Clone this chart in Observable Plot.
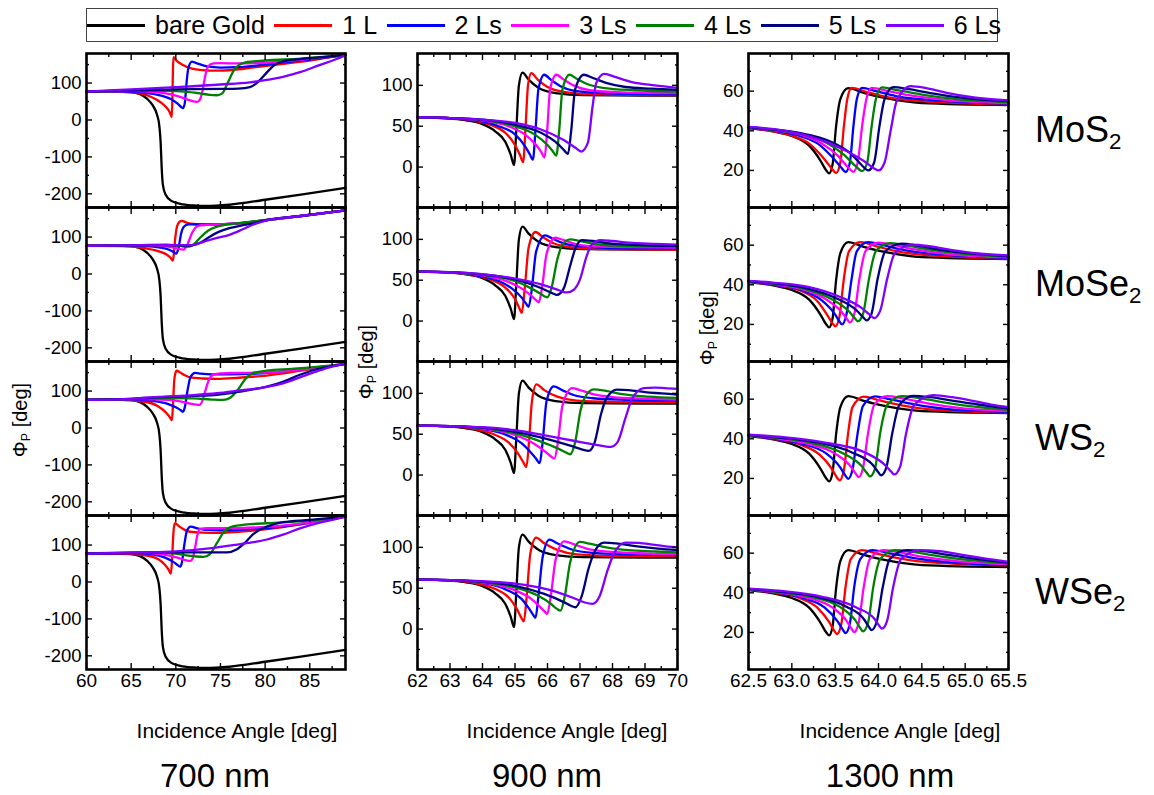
<!DOCTYPE html>
<html>
<head>
<meta charset="utf-8">
<script src="https://cdn.jsdelivr.net/npm/d3@7"></script>
<script src="https://cdn.jsdelivr.net/npm/@observablehq/plot@0.6"></script>
<style>
  body { margin: 0; background: #fff; }
  #fig { position: relative; width: 1154px; height: 795px; font-family: "Liberation Sans", Arial, sans-serif; color: #000; overflow: hidden; }
  .panel { position: absolute; }
  .abs { position: absolute; white-space: nowrap; transform: translate(-50%, -50%); }
  .rot { transform: translate(-50%, -50%) rotate(-90deg); }
  #legend { position: absolute; left: 86px; top: 8px; width: 912px; height: 34px; box-sizing: border-box;
            border: 1.5px solid #444; display: flex; align-items: center; font-size: 25px; white-space: nowrap; overflow: visible; }
  #legend .sw { width: 58px; height: 3px; margin-right: 10px; flex: none; }
  #legend .lb { margin-right: 9.5px; line-height: 1; flex: none; white-space: nowrap; }
  sub { font-size: 0.62em; vertical-align: -0.32em; line-height: 0; }
</style>
</head>
<body>
<div id="fig"></div>
<script>
// ---- series ----
const series = ["bare Gold", "1 L", "2 Ls", "3 Ls", "4 Ls", "5 Ls", "6 Ls"];
const colors = ["#000000", "#ff0000", "#0000ff", "#ff00ff", "#008000", "#000080", "#8000ff"];
const materials = ["MoS<sub>2</sub>", "MoSe<sub>2</sub>", "WS<sub>2</sub>", "WSe<sub>2</sub>"];
const wavelengths = ["700 nm", "900 nm", "1300 nm"];

// ---- axis ticks per wavelength column ----
const xDomains = [[60, 89], [62, 70], [62.5, 65.5]];
const yDomains = [[-237, 180], [-49.5, 139], [1.3, 79]];
const xMajor = [[60, 65, 70, 75, 80, 85], [62, 63, 64, 65, 66, 67, 68, 69, 70], [62.5, 63, 63.5, 64, 64.5, 65, 65.5]];
const xMinor = [[62.5, 67.5, 72.5, 77.5, 82.5, 87.5], [62.5, 63.5, 64.5, 65.5, 66.5, 67.5, 68.5, 69.5], [62.75, 63.25, 63.75, 64.25, 64.75, 65.25]];
const yMajor = [[-200, -100, 0, 100], [0, 50, 100], [20, 40, 60]];
const yMinor = [[-150, -50, 50, 150], [-25, 25, 75, 125], [10, 30, 50, 70]];

// ---- bare gold phase, [angle, phase, angle, phase, ...] ----
const gold700 = [60,77, 63,77, 65,75.5, 66,70, 66.8,57, 67.4,40, 67.9,14, 68.15,-15, 68.3,-60, 68.42,-130, 68.55,-175, 68.85,-202, 69.5,-219, 70.5,-227, 72,-231.5, 73.3,-233, 76,-229.5, 80,-216, 84,-202, 89,-184];
const gold900 = [62,60.8, 63,59.2, 63.5,57.2, 64,52.5, 64.4,43.5, 64.7,31, 64.87,15, 64.97,2.5, 65.04,45, 65.12,100, 65.23,115.5, 65.42,107, 65.72,97, 66.25,90.5, 67.1,88, 70,87.5];
const gold1300 = [62.5,41.4, 62.8,39.6, 63,37.4, 63.2,32.5, 63.33,25, 63.4,19.8, 63.43,18.5, 63.47,23, 63.51,42, 63.56,56, 63.65,61.5, 63.82,59.3, 64.1,56.3, 64.5,54, 65.5,53];

// ---- 700 nm, 1 L ... 6 Ls ----
const mos2_700 = [
  [60,77, 64,76, 66,72, 67.2,63, 68.3,48, 68.9,35, 69.3,22, 69.55,8, 69.62,60, 69.68,140, 69.75,170, 70.1,160, 70.8,149, 71.8,139, 73,135, 74.6,133.5, 76.5,136, 78.3,141, 82,152, 85.5,163, 89,176],
  [60,77, 64,77, 67,72, 68.5,65, 69.5,56, 70.2,44, 70.6,35, 70.8,32, 71,45, 71.2,100, 71.4,140, 71.8,158, 72.3,154, 73.5,145, 75,142, 77,143, 80,150, 84,161, 89,176],
  [60,77, 65,78, 68,75, 69.5,69, 70.8,60, 71.6,53, 72.1,50, 72.4,49, 72.7,55, 73,80, 73.3,120, 73.6,145, 74.2,153, 75,154, 77,153, 80,155, 84,163, 89,176],
  [60,77, 65,79, 69,79, 71,77, 72.7,72, 73.8,68, 74.6,67, 75.2,72, 75.8,100, 76.4,130, 77,148, 78,157, 80,161, 84,166, 89,176],
  [60,77, 65,80, 70,83, 75,84, 77,85, 78.3,89, 79.3,105, 80.2,129, 81,148, 82,159, 84,165, 86.5,170, 89,176],
  [60,77, 65,83, 70,89, 75,96, 78.3,102, 80,108, 82,117, 84,130, 86,148, 88,165, 89,175]
];
const mose2_700 = [
  [60,76, 64,75.5, 66.5,70, 68,62, 69,52, 69.4,44, 69.67,36, 69.8,60, 69.95,100, 70.15,130, 70.4,141, 70.68,144, 71.1,140, 71.7,136, 73,134, 75,134.5, 77,137, 80,145.5, 84,157, 89,172],
  [60,76, 65,77, 67.5,74, 69,68, 69.7,60, 70.04,55, 70.3,70, 70.6,110, 70.9,128, 71.4,134.5, 72.5,134, 74.5,134, 76.5,136, 80,145.5, 84,157, 89,172],
  [60,76, 66,78, 68.5,76, 70,70, 70.86,66, 71.3,80, 71.8,110, 72.2,125, 72.6,131, 73.5,133, 75,134.5, 77,137, 80,145.5, 84,157, 89,172],
  [60,76, 66,78, 69,79, 70.5,76, 71.2,73.5, 72,80, 72.8,100, 73.6,117, 74.6,128, 75.8,134.5, 77,137.5, 80,145.5, 84,157, 89,172],
  [60,76, 66,78, 69,78.5, 71.6,77, 72.8,85, 73.8,101, 74.8,114, 76,124, 77.5,132, 78.7,137, 80,145, 84,157, 89,172],
  [60,76, 66,78, 69.5,78, 71.6,78, 73.1,87, 74.5,97, 76,106, 77.5,121, 78.7,134, 80,144, 84,157, 89,172]
];
const ws2_700 = [
  [60,76, 64,76, 66.5,71, 68,59, 68.9,42, 69.3,30, 69.56,21, 69.68,60, 69.8,120, 69.95,148, 70.11,155, 70.5,150, 71,143, 71.6,137, 73,134, 74.6,133, 77,136, 80.2,142, 84,155, 89,173.5],
  [60,76, 65,77, 67.5,73, 69,66, 70,56, 70.5,49, 70.79,44, 71,55, 71.3,100, 71.6,135, 71.9,146, 72.17,149, 72.8,147, 74,145, 76,145, 79,147, 83,156, 89,173.5],
  [60,76, 66,78, 69,76, 70.5,72, 71.6,66, 72.3,63, 72.65,62.5, 72.95,72, 73.3,100, 73.7,130, 74.2,144.5, 75,148, 77,149, 80,150, 84,158, 89,173.5],
  [60,76, 66,79, 69,81, 72,80, 74,77, 75.3,76, 76.1,82, 77,105, 77.8,133, 78.7,149, 80.2,155, 83,160, 86,166, 89,173.5],
  [60,76, 65,79, 68,83, 72,87, 74.6,90, 77,98, 80.2,112, 82,125, 83.9,144, 85.5,157, 87,165, 89,173.5],
  [60,76, 65,79, 68,84, 72,89, 74.6,94, 77,101, 80.2,111, 82,121, 83.9,137, 85.5,151, 87,163, 89,173.5]
];
const wse2_700 = [
  [60,77, 64,76.5, 66.5,72, 68,62, 68.8,46, 69.2,33, 69.45,22.5, 69.58,60, 69.7,120, 69.8,150, 69.93,159, 70.3,152, 71,141, 71.6,136, 73,133.5, 74.6,133, 77,136, 80.2,143, 84,156, 89,177],
  [60,77, 65,78, 67.5,74, 68.8,66, 69.8,53, 70.25,45, 70.49,41.6, 70.7,55, 70.95,100, 71.2,135, 71.45,147, 71.68,150, 72.3,146, 73.5,141, 75,140, 77,141, 80.2,146, 84,157, 89,177],
  [60,77, 66,79, 68.5,75, 70.2,66, 71.1,59, 71.6,57, 71.85,62, 72.1,85, 72.4,125, 72.7,144, 73.5,145.5, 75,145.5, 77,146, 80.2,149, 84,158, 89,177],
  [60,77, 66,80, 69,79, 71,73, 72.3,69, 73.1,68, 73.8,75, 74.6,105, 75.3,133, 76.07,148, 77.3,154, 78.7,157, 81,160, 85,166, 89,177],
  [60,77, 66,79, 70,80, 73,80, 75.7,80, 76.8,88, 77.7,105, 78.7,130, 79.5,143, 80.2,150, 82,162, 85,168, 89,177],
  [60,77, 66,80, 70,83, 73,89, 76.4,100, 78.5,107, 80.2,115, 82,128, 83.9,145, 86,160, 88,171, 89,177]
];

// ---- 900 nm, 1 L ... 6 Ls ----
const mos2_900 = [
  [62,61, 63,60, 63.7,57, 64.3,51, 64.7,42, 65,27, 65.15,15, 65.25,6, 65.32,45, 65.4,100, 65.5,115, 65.7,107, 66,98, 66.5,92, 67.5,89, 70,88],
  [62,61, 63,60, 63.8,57, 64.5,50, 65,40, 65.3,26, 65.45,16, 65.55,9, 65.63,45, 65.72,95, 65.9,113, 66.1,107, 66.4,99, 66.9,93, 68,90, 70,89],
  [62,61, 63,60, 64,57, 64.8,50, 65.3,40, 65.65,27, 65.8,19, 65.91,12, 65.99,45, 66.08,95, 66.27,113, 66.5,107, 66.8,100, 67.3,94, 68.3,91.5, 70,90.5],
  [62,61, 63,60, 64,57.5, 65,50, 65.6,40, 66,27, 66.15,20, 66.27,14, 66.36,45, 66.46,95, 66.68,113, 66.9,108, 67.2,102, 67.7,97, 68.7,94, 70,92.5],
  [62,61, 63,60, 64,58, 65,52, 65.8,42, 66.3,29, 66.5,21, 66.63,16, 66.73,45, 66.85,95, 67.12,113, 67.4,109, 67.8,103, 68.4,98, 69.2,96, 70,94.5],
  [62,61, 63,60, 64,58, 65,54, 65.8,46, 66.5,33, 66.85,24, 67.04,19, 67.24,29.5, 67.39,75, 67.5,103, 67.75,114, 68.1,110, 68.6,104, 69.3,100, 70,97]
];
const mose2_900 = [
  [62,60.5, 63,59.5, 63.7,56, 64.3,50, 64.7,41, 65,27, 65.12,17, 65.21,10, 65.3,40, 65.42,90, 65.63,109, 65.85,103, 66.2,95, 66.8,90, 67.8,88, 70,87.5],
  [62,60.5, 63,59.5, 63.8,56, 64.5,49, 64.9,40, 65.2,29, 65.33,22, 65.42,17.5, 65.52,40, 65.65,85, 65.93,105, 66.15,101, 66.5,95, 67.1,91, 68.2,89, 70,88.5],
  [62,60.5, 63,59.5, 64,56, 64.8,48, 65.2,40, 65.5,31, 65.64,26, 65.73,23, 65.83,40, 65.97,82, 66.24,102, 66.5,99, 66.9,94, 67.5,91.5, 68.5,90.5, 70,90],
  [62,60.5, 63,59.5, 64,56.5, 65,49, 65.5,40, 65.8,33, 65.92,30, 65.99,29, 66.12,40, 66.3,75, 66.45,93, 66.7,100, 67,98, 67.5,94, 68.3,92, 70,91],
  [62,60.5, 63,60, 64,57, 65,51, 65.7,42, 66.1,35, 66.22,33, 66.29,32, 66.5,40, 66.7,68, 66.85,88, 67.06,99, 67.4,98, 67.9,95, 68.8,93, 70,92],
  [62,60.5, 63,60, 64,57.5, 65,52, 65.8,45, 66.3,38.5, 66.5,35.5, 66.6,35, 66.8,38, 67,51, 67.2,79, 67.37,94, 67.63,99, 68,98, 68.5,96, 69.3,94.5, 70,93.5]
];
const ws2_900 = [
  [62,60.5, 63,59.5, 63.8,56, 64.4,49, 64.8,40, 65.1,26, 65.25,16, 65.35,10, 65.43,40, 65.52,90, 65.66,111, 65.9,104, 66.3,96, 66.9,91, 68,89.5, 70,89],
  [62,60.5, 63,60, 64,56.5, 64.8,48, 65.2,39, 65.5,27, 65.65,20, 65.76,14.5, 65.85,40, 65.97,90, 66.19,108.5, 66.45,104, 66.8,98, 67.4,94, 68.5,92, 70,91],
  [62,60.5, 63,60, 64,57, 65,49, 65.6,38, 65.95,28, 66.1,23, 66.21,20, 66.32,40, 66.46,85, 66.76,106.5, 67,104, 67.4,99, 68,95.5, 69,93.5, 70,92.5],
  [62,60.5, 63,60, 64,57.5, 65,51, 65.8,41, 66.3,33, 66.55,28, 66.7,25.5, 66.85,40, 67.02,80, 67.15,95, 67.42,105, 67.8,103, 68.3,99, 69.1,96, 70,94.5],
  [62,60.5, 63,60, 64,58, 65,53, 66,44, 66.7,36, 67.05,31.5, 67.27,29.5, 67.45,40, 67.65,75, 67.8,93, 68.14,104.5, 68.5,104, 69,101.5, 69.5,100, 70,98.5],
  [62,60.5, 63,60, 64,58.5, 65,55, 66,48, 66.8,42, 67.5,37, 67.94,34.5, 68.15,40, 68.4,70, 68.6,93, 68.96,106.5, 69.3,107, 69.6,106.5, 70,105.5]
];
const wse2_900 = [
  [62,60.5, 63,59.5, 63.8,56, 64.4,49, 64.8,39, 65.05,25, 65.18,15, 65.27,9.5, 65.36,40, 65.47,92, 65.65,112, 65.9,105, 66.3,97, 66.9,91.5, 68,89.5, 70,89],
  [62,60.5, 63,60, 64,56.5, 64.8,47, 65.2,37, 65.45,24, 65.55,18, 65.63,13.6, 65.72,40, 65.85,88, 66.06,109.5, 66.3,105, 66.7,98, 67.3,93.5, 68.5,91.3, 70,90.5],
  [62,60.5, 63,60, 64,57, 64.9,49, 65.5,37, 65.8,26, 65.92,21, 65.99,18.5, 66.1,40, 66.25,85, 66.52,107.4, 66.8,104, 67.2,98.5, 67.8,95, 68.8,92.8, 70,91.8],
  [62,60.5, 63,60, 64,57.5, 65,51, 65.7,41, 66.1,31, 66.28,25, 66.4,22.6, 66.53,40, 66.7,82, 67,106.6, 67.3,104.5, 67.8,100, 68.5,96.5, 69.3,95, 70,93.8],
  [62,60.5, 63,60, 64,58, 65,53, 65.9,43, 66.5,33, 66.72,28.5, 66.86,26.7, 67.05,40, 67.27,75, 67.45,95, 67.74,105.8, 68.1,105, 68.7,101.5, 69.4,98.5, 70,96.7],
  [62,60.5, 63,60, 64,58.5, 65,55.5, 66,48.5, 66.8,38, 67.15,32.5, 67.38,30.9, 67.6,40, 67.85,72, 68.05,93, 68.4,105.8, 68.8,105.5, 69.3,103, 69.7,101, 70,100]
];

// ---- 1300 nm, 1 L ... 6 Ls ----
const mos2_1300 = [
  [62.5,41.5, 62.8,39.6, 63,37.5, 63.2,33.5, 63.35,27, 63.46,21, 63.51,18.7, 63.56,24, 63.6,42, 63.64,56, 63.69,61.7, 63.85,59.8, 64.1,57, 64.5,55, 65.5,53.3],
  [62.5,41.6, 62.8,40, 63.1,37.3, 63.3,33.5, 63.46,27, 63.57,21.5, 63.62,19.2, 63.67,24, 63.71,42, 63.75,56, 63.81,61.7, 63.97,60, 64.2,57.5, 64.6,55.5, 65.5,53.7],
  [62.5,41.7, 62.8,40.2, 63.1,38, 63.35,33.5, 63.53,27.5, 63.65,21.5, 63.71,19.3, 63.76,24, 63.81,42, 63.86,56, 63.92,61.7, 64.1,60.2, 64.35,58, 64.8,55.5, 65.5,54],
  [62.5,41.8, 62.8,40.4, 63.1,38.5, 63.4,34, 63.6,28, 63.74,22, 63.81,19.7, 63.87,24, 63.92,42, 63.97,56, 64.04,61.9, 64.22,60.5, 64.5,58.3, 64.9,56, 65.5,54.5],
  [62.5,41.9, 62.8,40.6, 63.1,38.8, 63.45,34.5, 63.68,28.5, 63.81,22.5, 63.88,20, 63.95,24, 64.01,42, 64.07,56, 64.17,62, 64.35,61, 64.6,59, 65,56.5, 65.5,55],
  [62.5,42, 62.8,40.8, 63.25,36.6, 63.63,29.8, 63.86,23.9, 63.95,21, 64,20, 64.07,24, 64.14,40, 64.21,55, 64.37,62.5, 64.55,61.5, 64.8,59, 65.1,56.8, 65.5,55.3]
];
const mose2_1300 = [
  [62.5,41.6, 62.8,39.8, 63.1,37, 63.3,31.5, 63.42,24, 63.47,20.5, 63.5,19, 63.55,24, 63.6,43, 63.66,57, 63.79,61.5, 63.97,59.5, 64.2,57, 64.6,54.8, 65.5,53.2],
  [62.5,41.7, 62.8,40, 63.1,37.5, 63.35,32, 63.5,25, 63.55,21.5, 63.58,20, 63.63,25, 63.69,43, 63.75,57, 63.88,61.5, 64.05,60, 64.3,57.5, 64.7,55.3, 65.5,53.5],
  [62.5,41.8, 62.8,40.3, 63.1,38, 63.4,32.5, 63.58,26, 63.64,22.5, 63.67,21, 63.72,25, 63.78,43, 63.85,57, 64,61.3, 64.18,60, 64.4,58, 64.8,55.5, 65.5,53.8],
  [62.5,41.8, 62.8,40.5, 63.1,38.5, 63.45,33, 63.66,26.5, 63.73,23, 63.76,21.6, 63.82,25, 63.89,43, 63.97,57, 64.13,61, 64.3,60, 64.55,58, 64.95,55.8, 65.5,54.1],
  [62.5,41.9, 62.8,40.7, 63.15,38.5, 63.5,33.5, 63.75,27, 63.83,23.3, 63.86,22, 63.92,25.5, 63.99,43, 64.08,57, 64.27,60.8, 64.45,59.8, 64.7,57.8, 65.05,56, 65.5,54.5],
  [62.5,42, 62.8,41, 63.2,38.8, 63.55,34, 63.8,28.5, 63.91,24.5, 63.95,23.2, 64.02,27, 64.1,43, 64.19,56, 64.39,60.2, 64.58,59.5, 64.85,57.5, 65.15,55.8, 65.5,54.8]
];
const ws2_1300 = [
  [62.5,41.6, 62.8,39.8, 63.1,37, 63.32,32, 63.46,25, 63.52,20.5, 63.55,19, 63.6,24, 63.65,43, 63.7,56, 63.83,61.3, 64,59.5, 64.25,57, 64.65,54.6, 65.5,53.2],
  [62.5,41.7, 62.8,40, 63.1,37.6, 63.4,32.5, 63.56,25.5, 63.62,21.3, 63.65,19.8, 63.7,24.5, 63.76,43, 63.82,56.5, 63.96,61.4, 64.13,60, 64.4,57.5, 64.8,55, 65.5,53.6],
  [62.5,41.8, 62.8,40.3, 63.15,37.8, 63.5,32.5, 63.68,26, 63.74,22.2, 63.77,20.7, 63.82,25, 63.88,43, 63.95,57, 64.1,61.5, 64.28,60.4, 64.55,58, 64.95,55.5, 65.5,54],
  [62.5,41.9, 62.8,40.6, 63.2,38.2, 63.6,32.5, 63.8,26.5, 63.87,22.5, 63.9,21, 63.96,25, 64.02,43, 64.1,57, 64.27,61.5, 64.45,60.7, 64.7,58.8, 65.05,56.5, 65.5,54.6],
  [62.5,42, 62.8,40.8, 63.25,38.5, 63.7,33, 63.93,27, 64,23, 64.03,21.6, 64.09,25.5, 64.16,43, 64.24,57, 64.4,61.7, 64.6,61, 64.85,59.3, 65.15,57.3, 65.5,55.3],
  [62.5,42.1, 62.9,40.8, 63.35,38.3, 63.85,33, 64.07,27, 64.15,23.3, 64.18,22, 64.25,26, 64.32,43, 64.41,57, 64.63,62, 64.85,61, 65.1,59, 65.3,57.3, 65.5,56]
];
const wse2_1300 = [
  [62.5,41.6, 62.8,40, 63.1,37.2, 63.3,32.3, 63.43,25.3, 63.49,20.8, 63.52,19.2, 63.57,24, 63.62,43, 63.68,57, 63.81,61.5, 63.98,59.8, 64.25,57.3, 64.65,55.2, 65.5,53.8],
  [62.5,41.7, 62.8,40.2, 63.1,37.8, 63.38,32.5, 63.53,25.5, 63.59,21.3, 63.62,19.7, 63.67,24.5, 63.72,43, 63.79,57, 63.93,61.5, 64.1,60.2, 64.38,57.8, 64.8,55.5, 65.5,54],
  [62.5,41.8, 62.8,40.4, 63.15,37.8, 63.47,32.5, 63.63,26, 63.69,21.8, 63.72,20.2, 63.77,24.7, 63.83,43, 63.9,57, 64.06,61.5, 64.24,60.4, 64.5,58.3, 64.9,56, 65.5,54.4],
  [62.5,41.9, 62.8,40.6, 63.2,38.2, 63.55,33, 63.73,26.3, 63.79,22.2, 63.82,20.5, 63.88,25, 63.94,43, 64.02,57, 64.19,61.5, 64.37,60.8, 64.62,59, 65,56.7, 65.5,54.8],
  [62.5,42, 62.8,40.8, 63.25,38.3, 63.63,33, 63.83,26.8, 63.89,22.8, 63.92,21.2, 63.98,25.5, 64.05,43, 64.13,57, 64.33,61.5, 64.52,61, 64.78,59.3, 65.1,57.2, 65.5,55.2],
  [62.5,42.1, 62.9,40.8, 63.35,38, 63.75,32.5, 63.95,27, 64.01,23.3, 64.04,21.9, 64.1,26, 64.17,43, 64.26,57, 64.48,61.5, 64.7,61, 64.95,59.3, 65.2,57.5, 65.5,55.6]
];

const goldCurves = [gold700, gold900, gold1300];
const layerCurves = [
  [mos2_700, mos2_900, mos2_1300],
  [mose2_700, mose2_900, mose2_1300],
  [ws2_700, ws2_900, ws2_1300],
  [wse2_700, wse2_900, wse2_1300]
];

// ---- layout ----
const fig = document.getElementById("fig");
const frameLeft = [86, 417, 748];
const frameWidth = [259, 260, 260];
const frameTop = 53, frameHeight = 154;
const mL = 50, mR = 12, mT = 10;

function toPoints(flat, s) {
  const out = [];
  for (let i = 0; i < flat.length; i += 2) out.push({x: flat[i], y: flat[i + 1], s});
  return out;
}
const blank = () => "";
const xFormat = [d => String(d), d => String(d), d => d.toFixed(1)];

for (let r = 0; r < 4; r++) {
  for (let c = 0; c < 3; c++) {
    const bottom = r === 3;
    const mB = bottom ? 36 : 10;
    const rows = toPoints(goldCurves[c], series[0]);
    layerCurves[r][c].forEach((flat, i) => rows.push(...toPoints(flat, series[i + 1])));
    const tick = {strokeWidth: 1.4, label: null};
    const svg = Plot.plot({
      width: mL + frameWidth[c] + mR,
      height: mT + frameHeight + mB,
      marginLeft: mL, marginRight: mR, marginTop: mT, marginBottom: mB,
      style: {fontSize: "18px", fontFamily: "'Liberation Sans', Arial, sans-serif", color: "#000", background: "transparent", overflow: "visible"},
      x: {domain: xDomains[c], axis: null},
      y: {domain: yDomains[c], axis: null},
      color: {domain: series, range: colors},
      marks: [
        Plot.line(rows, {x: "x", y: "y", z: "s", stroke: "s", strokeWidth: 2.3, curve: "monotone-x"}),
        Plot.axisY(yMajor[c], {...tick, anchor: "left", tickSize: -6, tickPadding: 11, tickFormat: d => String(d), fontSize: 18.5}),
        Plot.axisY(yMinor[c], {...tick, anchor: "left", tickSize: -3, tickFormat: blank}),
        Plot.axisY(yMajor[c], {...tick, anchor: "right", tickSize: -6, tickFormat: blank}),
        Plot.axisY(yMinor[c], {...tick, anchor: "right", tickSize: -3, tickFormat: blank}),
        Plot.axisX(xMajor[c], {...tick, anchor: "bottom", tickSize: -6, tickPadding: 10, tickFormat: bottom ? xFormat[c] : blank, fontSize: 19}),
        Plot.axisX(xMinor[c], {...tick, anchor: "bottom", tickSize: -3, tickFormat: blank}),
        Plot.axisX(xMajor[c], {...tick, anchor: "top", tickSize: -6, tickFormat: blank}),
        Plot.axisX(xMinor[c], {...tick, anchor: "top", tickSize: -3, tickFormat: blank}),
        Plot.frame({stroke: "#000", strokeWidth: 2.6})
      ]
    });
    svg.classList.add("panel");
    svg.style.left = (frameLeft[c] - mL) + "px";
    svg.style.top = (frameTop + r * frameHeight - mT) + "px";
    fig.appendChild(svg);
  }
}

// ---- text around the grid ----
function label(html, x, y, size, extra = "") {
  const d = document.createElement("div");
  d.className = "abs " + extra;
  d.style.left = x + "px";
  d.style.top = y + "px";
  d.style.fontSize = size + "px";
  d.innerHTML = html;
  fig.appendChild(d);
  return d;
}
materials.forEach((m, r) => {
  const d = label(m, 1035, frameTop + r * frameHeight + 77, 36);
  d.style.transform = "translate(0, -50%)";
});
const yTitle = "&Phi;<sub>P</sub> [deg]";
label(yTitle, 20, 420, 20, "rot");
label(yTitle, 366, 362, 20, "rot");
label(yTitle, 707, 328, 20, "rot");
[237, 567, 900].forEach(x => label("Incidence Angle [deg]", x, 731, 21));
[215, 547, 890].forEach((x, c) => label(wavelengths[c], x, 776, 33));

// ---- legend ----
const legend = document.createElement("div");
legend.id = "legend";
series.forEach((s, i) => {
  const sw = document.createElement("span");
  sw.className = "sw";
  sw.style.background = colors[i];
  const lb = document.createElement("span");
  lb.className = "lb";
  lb.textContent = s;
  legend.append(sw, lb);
});
fig.appendChild(legend);
</script>
</body>
</html>
